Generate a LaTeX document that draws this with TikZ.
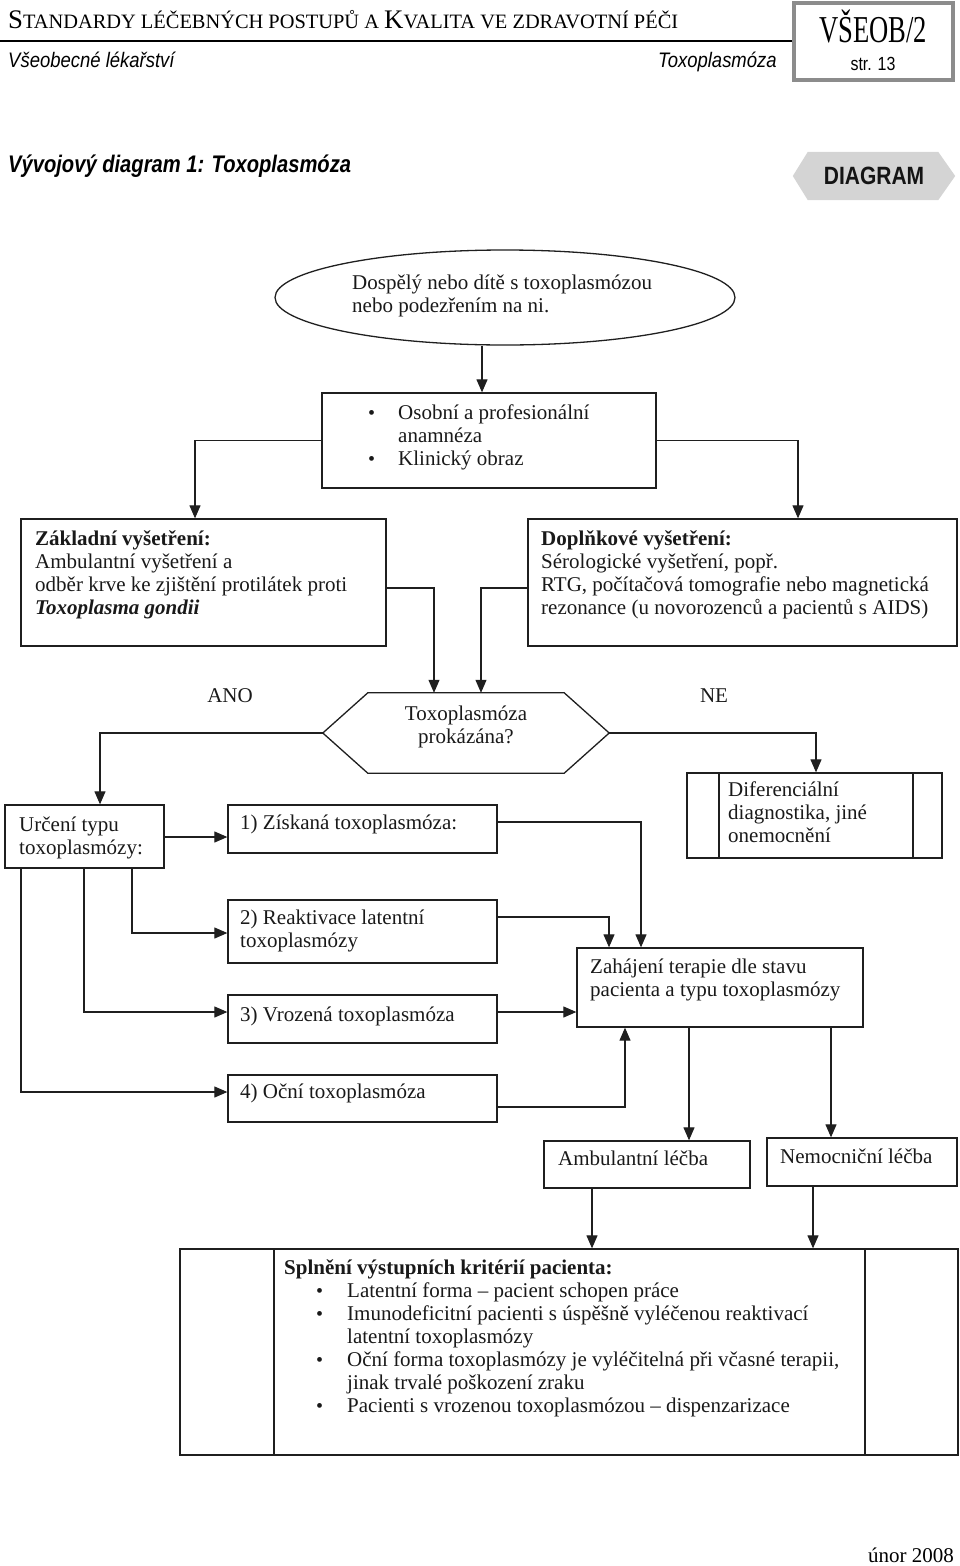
\documentclass[tikz,border=0pt]{standalone}
\usepackage{fontspec}
\setmainfont{Liberation Serif}
\newfontfamily\condsans[FakeStretch=0.84]{Liberation Sans}
\newfontfamily\subsans[FakeStretch=0.88]{Liberation Sans}
\newfontfamily\condserif[FakeStretch=0.7]{Liberation Serif}
\usetikzlibrary{arrows.meta,fit,shapes.geometric}
\newcommand\bigC[1]{{\fontsize{26.8}{26.8}\selectfont #1}}
\newcommand\smC[1]{{\fontsize{20.4}{20.4}\selectfont #1}}
\newcommand\blt[1]{\makebox[#1][l]{\fontsize{20}{20}\selectfont •}}
\tikzset{
  box/.style={draw=black!88, line width=1.3pt, inner sep=0pt, rectangle},
  conn/.style={draw=black!88, line width=1.1pt},
  arr/.style={conn, -{Triangle[length=13pt,width=11pt]}},
  txt/.style={inner sep=0pt, anchor=base west, text=black!90, font=\fontsize{21}{23}\selectfont},
  ctxt/.style={inner sep=0pt, anchor=base, text=black!90, font=\fontsize{21}{23}\selectfont},
}
\begin{document}
\begin{tikzpicture}[x=1pt,y=-1pt]
\useasboundingbox (0,0) rectangle (960,1566);
% ---------- header ----------
\node[inner sep=0pt, anchor=base west] (title) at (8,28)
  {\bigC{S}\smC{TANDARDY LÉČEBNÝCH POSTUPŮ A }\bigC{K}\smC{VALITA VE ZDRAVOTNÍ PÉČI}};
\node[draw=black!45, line width=4pt, inner sep=0pt, fit={(794,3) (953,80)}] (vb) {};
\draw[line width=2pt] (0,41) -- (vb.west |- 0,41);
\node[inner sep=0pt, anchor=base, font=\condserif\fontsize{38}{38}\selectfont] (vbt) at (873,42) {VŠEOB/2};
\node[inner sep=0pt, anchor=base, font=\condsans\fontsize{19}{19}\selectfont] (str) at (873,70) {str. 13};
\node[inner sep=0pt, anchor=base west, font=\subsans\itshape\fontsize{21}{21}\selectfont] (sub1) at (8,67) {Všeobecné lékařství};
\node[inner sep=0pt, anchor=base west, font=\subsans\itshape\fontsize{21}{21}\selectfont] (sub2) at (658,67) {Toxoplasmóza};
\node[inner sep=0pt, anchor=base west, font=\condsans\bfseries\itshape\fontsize{24}{24}\selectfont] (vd) at (8,172) {Vývojový diagram 1: Toxoplasmóza};
\node[inner sep=0pt, fit={(793,152) (955,200)}] (dg) {};
\fill[black!17] (dg.west) -- ([xshift=15pt]dg.north west) -- ([xshift=-17pt]dg.north east) -- (dg.east)
  -- ([xshift=-17pt]dg.south east) -- ([xshift=15pt]dg.south west) -- cycle;
\node[inner sep=0pt, anchor=base, text=black!92, font=\condsans\bfseries\fontsize{25}{25}\selectfont] (dgt) at (874,184) {DIAGRAM};
% ---------- flow boxes ----------
\node[draw=black!88, line width=1.3pt, ellipse, inner sep=0pt, minimum width=460pt, minimum height=95pt] (e) at (505,297.5) {};
\node[txt] (et) at (352,289) {\parbox[t]{330pt}{Dospělý nebo dítě s toxoplasmózou\\nebo podezřením na ni.}};

\node[box, fit={(322,393) (656,488)}] (o) {};
\node[txt] (ot) at (368,419) {\parbox[t]{280pt}{\blt{30pt}Osobní a profesionální\\\hspace*{30pt}anamnéza\\\blt{30pt}Klinický obraz}};

\node[box, fit={(21,519) (386,646)}] (z) {};
\node[txt] (zt) at (35,545) {\parbox[t]{345pt}{\textbf{Základní vyšetření:}\\Ambulantní vyšetření a\\odběr krve ke zjištění protilátek proti\\\textbf{\textit{Toxoplasma gondii}}}};

\node[box, fit={(528,519) (957,646)}] (d) {};
\node[txt] (dt) at (541,545) {\parbox[t]{410pt}{\textbf{Doplňkové vyšetření:}\\Sérologické vyšetření, popř.\\RTG, počítačová tomografie nebo magnetická\\rezonance (u novorozenců a pacientů s AIDS)}};

\node[inner sep=0pt, fit={(323,693) (609,773)}] (h) {};
\draw[box] (h.west) -- ([xshift=45pt]h.north west) -- ([xshift=-45pt]h.north east) -- (h.east)
  -- ([xshift=-45pt]h.south east) -- ([xshift=45pt]h.south west) -- cycle;
\node[ctxt] (ht1) at (466,720) {Toxoplasmóza};
\node[ctxt] (ht2) at (466,743) {prokázána?};
\node[ctxt] (ano) at (230,702) {ANO};
\node[ctxt] (ne) at (714,702) {NE};

\node[box, fit={(5,805) (164,868)}] (u) {};
\node[txt] (ut) at (19,831) {\parbox[t]{140pt}{Určení typu\\toxoplasmózy:}};

\node[box, fit={(228,805) (497,853)}] (b1) {};
\node[txt] (b1t) at (240,829) {1) Získaná toxoplasmóza:};

\node[box, fit={(687,773) (942,858)}] (df) {};
\draw[box] (719,0 |- df.north) -- (719,0 |- df.south);
\draw[box] (913,0 |- df.north) -- (913,0 |- df.south);
\node[txt] (dft) at (728,796) {\parbox[t]{180pt}{Diferenciální\\diagnostika, jiné\\onemocnění}};

\node[box, fit={(228,900) (497,963)}] (b2) {};
\node[txt] (b2t) at (240,924) {\parbox[t]{250pt}{2) Reaktivace latentní\\toxoplasmózy}};

\node[box, fit={(228,995) (497,1043)}] (b3) {};
\node[txt] (b3t) at (240,1021) {3) Vrozená toxoplasmóza};

\node[box, fit={(228,1075) (497,1122)}] (b4) {};
\node[txt] (b4t) at (240,1098) {4) Oční toxoplasmóza};

\node[box, fit={(577,948) (863,1027)}] (zh) {};
\node[txt] (zht) at (590,973) {\parbox[t]{270pt}{Zahájení terapie dle stavu\\pacienta a typu toxoplasmózy}};

\node[box, fit={(544,1141) (750,1188)}] (am) {};
\node[txt] (amt) at (558,1165) {Ambulantní léčba};

\node[box, fit={(767,1138) (957,1186)}] (nm) {};
\node[txt] (nmt) at (780,1163) {Nemocniční léčba};

\node[box, fit={(180,1249) (958,1455)}] (sp) {};
\draw[box] (274,0 |- sp.north) -- (274,0 |- sp.south);
\draw[box] (865,0 |- sp.north) -- (865,0 |- sp.south);
\node[txt] (spt) at (284,1274) {\parbox[t]{575pt}{\textbf{Splnění výstupních kritérií pacienta:}\\
\hspace*{32pt}\blt{31pt}Latentní forma – pacient schopen práce\\
\hspace*{32pt}\blt{31pt}Imunodeficitní pacienti s úspěšně vyléčenou reaktivací\\
\hspace*{63pt}latentní toxoplasmózy\\
\hspace*{32pt}\blt{31pt}Oční forma toxoplasmózy je vyléčitelná při včasné terapii,\\
\hspace*{63pt}jinak trvalé poškození zraku\\
\hspace*{32pt}\blt{31pt}Pacienti s vrozenou toxoplasmózou – dispenzarizace}};

\node[inner sep=0pt, anchor=base east, font=\fontsize{21}{23}\selectfont] (date) at (954,1562) {únor 2008};
% ---------- connectors ----------
\draw[arr] (482,0 |- e.south) -- (482,0 |- o.north);
\draw[arr] (o.west) -| (195,0 |- z.north);
\draw[arr] (o.east) -| (798,0 |- d.north);
\draw[arr] (z.east |- 0,588) -| (434,0 |- h.north);
\draw[arr] (d.west |- 0,588) -| (481,0 |- h.north);
\draw[arr] (h.west) -| (100,0 |- u.north);
\draw[arr] (h.east) -| (816,0 |- df.north);
\draw[arr] (u.east |- 0,837) -- (b1.west |- 0,837);
\draw[arr] (b1.east |- 0,822) -| (641,0 |- zh.north);
\draw[arr] (132,0 |- u.south) |- (b2.west |- 0,933);
\draw[arr] (84,0 |- u.south) |- (b3.west |- 0,1012);
\draw[arr] (21,0 |- u.south) |- (b4.west |- 0,1092);
\draw[arr] (b2.east |- 0,917) -| (609,0 |- zh.north);
\draw[arr] (b3.east |- 0,1012) -- (zh.west |- 0,1012);
\draw[arr] (b4.east |- 0,1107) -| (625,0 |- zh.south);
\draw[arr] (689,0 |- zh.south) -- (689,0 |- am.north);
\draw[arr] (831,0 |- zh.south) -- (831,0 |- nm.north);
\draw[arr] (592,0 |- am.south) -- (592,0 |- sp.north);
\draw[arr] (813,0 |- nm.south) -- (813,0 |- sp.north);
\end{tikzpicture}
\end{document}
